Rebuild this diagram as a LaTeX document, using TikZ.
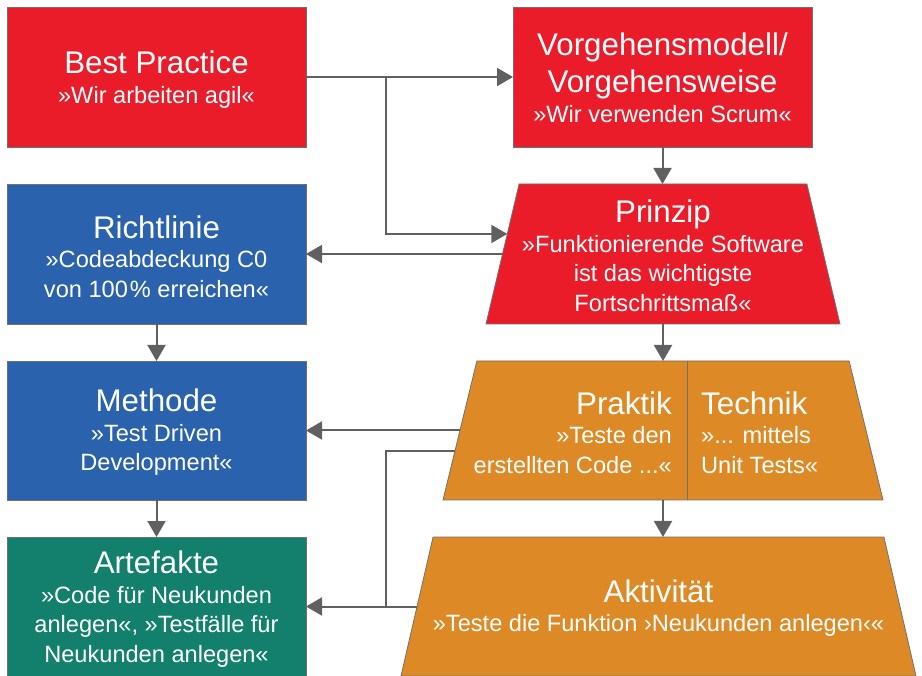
\documentclass[tikz,border=0pt]{standalone}
\usepackage{fontspec}
\setmainfont{Liberation Sans}
\usetikzlibrary{shapes.geometric,arrows.meta,calc}
\definecolor{cred}{RGB}{234,28,42}
\definecolor{cblue}{RGB}{42,98,174}
\definecolor{corange}{RGB}{221,138,38}
\definecolor{cteal}{RGB}{19,128,110}
\definecolor{linegray}{RGB}{96,96,98}
\definecolor{bordergray}{RGB}{112,112,112}
\newcommand{\subf}{\fontsize{23.6}{29.5}\selectfont}
\newcommand{\ttl}[1]{{\fontsize{31.3}{37}\selectfont #1}}
\newcommand{\hstrut}[1]{\rule[-#1pt]{0pt}{#1pt}\rule{0pt}{#1pt}}
\begin{document}
\begin{tikzpicture}[x=1pt,y=-1pt,
  box/.style={draw=bordergray, line width=0.8pt, text=white, align=center, inner sep=0pt, outer sep=0pt, font=\subf},
  rbox/.style={box, rectangle, minimum width=299pt, minimum height=140pt},
  trap/.style={box, trapezium, trapezium stretches body},
  txt/.style={text=white, font=\subf, inner sep=0pt},
  conn/.style={draw=linegray, line width=2pt},
  arr/.style={conn, -{Triangle[length=16pt,width=18pt]}}]
\useasboundingbox (0,0) rectangle (922,676);

\node[rbox, fill=cred] (bp) at (156.5,77) {};
\node[txt, align=center] (bpt) at (156.5,79.5) {\ttl{Best Practice}\\»Wir arbeiten agil«};
\node[rbox, fill=cred] (vm) at (662.5,77) {};
\node[txt, align=center] (vmt) at (662.5,78) {\ttl{Vorgehensmodell/}\\[7.5pt]\ttl{Vorgehensweise}\\»Wir verwenden Scrum«};

\node[trap, fill=cred, trapezium left angle=76.7, trapezium right angle=76.7, minimum width=354pt] (pr) at (663,254) {\hstrut{70}};
\node[txt, align=center] (prt) at (663,256) {\ttl{Prinzip}\\»Funktionierende Software\\ist das wichtigste\\Fortschrittsmaß«};

\node[rbox, fill=cblue] (rl) at (156.5,254) {};
\node[txt, align=center] (rlt) at (156.5,256.5) {\ttl{Richtlinie}\\»Codeabdeckung C0\\von 100\kern2pt\% erreichen«};
\node[rbox, fill=cblue, minimum height=139pt] (me) at (156.5,430.5) {};
\node[txt, align=center] (met) at (156.5,432.5) {\ttl{Methode}\\»Test Driven\\Development«};
\node[rbox, fill=cteal, minimum height=139pt] (ar) at (156.5,606.5) {};
\node[txt, align=center] (art) at (156.5,609) {\ttl{Artefakte}\\»Code für Neukunden\\anlegen«, »Testfälle für\\Neukunden anlegen«};

\node[trap, fill=corange, trapezium left angle=76.3, trapezium right angle=76.3, minimum width=440pt] (pt) at (663,430.5) {\hstrut{69.5}};
\draw[draw=bordergray, line width=0.8pt] ([xshift=24pt]pt.north) -- ([xshift=24pt]pt.south);
\node[txt, align=right, anchor=east] (ptx) at (672,432.5) {\ttl{Praktik}\\»Teste den\\erstellten Code ...«};
\node[txt, align=left, anchor=west] (tex) at (701,432.5) {\ttl{Technik}\\»... mittels\\Unit Tests«};

\node[trap, fill=corange, trapezium left angle=77, trapezium right angle=77, minimum width=515pt] (ak) at (658.5,606.5) {\hstrut{69.5}};
\node[txt, align=center] (akt) at (658.5,608) {\ttl{Aktivität}\\»Teste die Funktion ›Neukunden anlegen‹«};

\draw[arr] (bp.east) -- (vm.west);
\coordinate (j1) at (386,77);
\coordinate (prin) at ($(pr.top left corner)!0.357!(pr.bottom left corner)$);
\draw[arr] (j1) |- (prin);
\draw[arr] (vm.south) -- (vm.south |- pr.north);
\draw[arr] (pr.west) -- (rl.east);
\draw[arr] (rl.south) -- (me.north);
\draw[arr] (me.south) -- (ar.north);
\draw[arr] (pr.south) -- (pt.north);
\draw[arr] (pt.west) -- (me.east);
\coordinate (ptout) at ($(pt.top left corner)!0.647!(pt.bottom left corner)$);
\coordinate (j2) at (386,606.5);
\draw[conn] (ptout) -| (j2);
\draw[arr] (ak.west) -- (ar.east);
\draw[arr] (pt.south) -- (pt.south |- ak.north);
\end{tikzpicture}
\end{document}
